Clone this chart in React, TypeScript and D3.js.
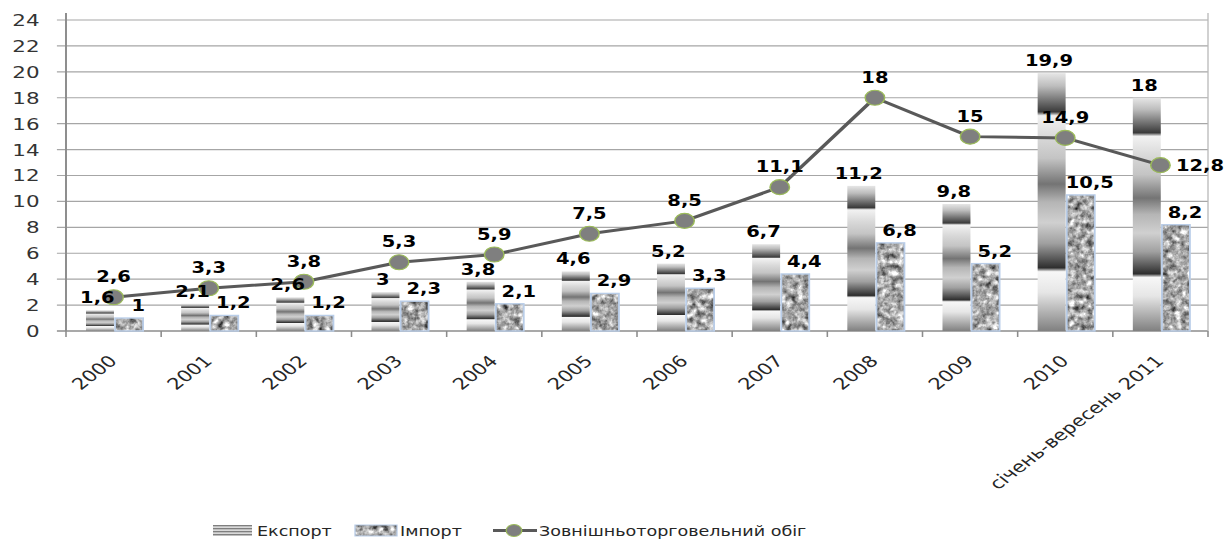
import React from "react";
import * as d3 from "d3";

// the reference picture is stretched horizontally, so we draw in a narrower
// virtual space and let the svg stretch it back out
const W = 1232;
const H = 544;
const K = 1.3;
const VW = W / K;

const categories = [
  "2000", "2001", "2002", "2003", "2004", "2005",
  "2006", "2007", "2008", "2009", "2010", "січень-вересень 2011",
];
const exportValues = [1.6, 2.1, 2.6, 3, 3.8, 4.6, 5.2, 6.7, 11.2, 9.8, 19.9, 18];
const importValues = [1, 1.2, 1.2, 2.3, 2.1, 2.9, 3.3, 4.4, 6.8, 5.2, 10.5, 8.2];
const turnoverValues = [2.6, 3.3, 3.8, 5.3, 5.9, 7.5, 8.5, 11.1, 18, 15, 14.9, 12.8];
const yTicks = [0, 2, 4, 6, 8, 10, 12, 14, 16, 18, 20, 22, 24];
const seriesNames = ["Експорт", "Імпорт", "Зовнішньоторговельний обіг"];

const plot = { left: 66 / K, right: 1208 / K, top: 20, bottom: 331 };

const fmt = (v: number) => String(v).replace(".", ",");

const exportStops: [number, string][] = [
  [0, "#e6e6e6"],
  [0.05, "#bdbdbd"],
  [0.15, "#3a3a3a"],
  [0.165, "#f2f2f2"],
  [0.25, "#d8d8d8"],
  [0.33, "#c4c4c4"],
  [0.43, "#747474"],
  [0.5, "#b5b5b5"],
  [0.58, "#d0d0d0"],
  [0.66, "#a0a0a0"],
  [0.755, "#2e2e2e"],
  [0.77, "#f7f7f7"],
  [0.85, "#e6e6e6"],
  [1, "#808080"],
];

export default function App() {
  const x = d3
    .scaleBand<string>()
    .domain(categories)
    .range([plot.left, plot.right])
    .paddingInner(0)
    .paddingOuter(0);
  const bw = x.bandwidth();
  const x1 = d3
    .scaleBand<string>()
    .domain(["exp", "imp"])
    .range([bw * 0.21, bw * 0.81])
    .paddingInner(0.04);
  const y = d3.scaleLinear().domain([0, 24]).range([plot.bottom, plot.top]);

  const line = d3
    .line<number>()
    .x((_, i) => x(categories[i])! + bw / 2)
    .y((d) => y(d));

  const boundaries = d3.range(categories.length + 1).map((i) => plot.left + i * bw);

  const labelFont = "'DejaVu Sans', sans-serif";

  return (
    <svg
      width={W}
      height={H}
      viewBox={`0 0 ${VW} ${H}`}
      preserveAspectRatio="none"
      style={{ position: "absolute", left: 0, top: 0, background: "#fff" }}
    >
      <defs>
        <linearGradient id="expGrad" x1="0" y1="0" x2="0" y2="1">
          {exportStops.map(([o, c], i) => (
            <stop key={i} offset={o} stopColor={c} />
          ))}
        </linearGradient>
        <filter id="noise" x="0" y="0" width="1" height="1" colorInterpolationFilters="sRGB">
          <feTurbulence type="fractalNoise" baseFrequency="0.22 0.17" numOctaves={3} seed={7} />
          <feColorMatrix
            type="matrix"
            values="0.7 0.7 0.7 0 -0.4  0.7 0.7 0.7 0 -0.4  0.7 0.7 0.7 0 -0.4  0 0 0 0 1"
          />
          <feComposite operator="in" in2="SourceGraphic" />
        </filter>
        <pattern id="stripes" width="6" height="3" patternUnits="userSpaceOnUse">
          <rect width="6" height="3" fill="#d9d9d9" />
          <rect width="6" height="1.3" fill="#7f7f7f" />
        </pattern>
      </defs>

      {/* gridlines */}
      {yTicks.map((t) => (
        <line
          key={t}
          x1={plot.left - 7}
          x2={plot.right}
          y1={y(t)}
          y2={y(t)}
          stroke={t === 0 ? "#8c8c8c" : "#a6a6a6"}
          strokeWidth={t === 0 ? 1.6 : 1.2}
        />
      ))}
      {yTicks.map((t) => (
        <text
          key={t}
          x={30.5}
          y={y(t)}
          dy="0.36em"
          textAnchor="end"
          fontFamily={labelFont}
          fontSize={16.5}
          fill="#333"
        >
          {t}
        </text>
      ))}
      <line x1={plot.left} x2={plot.left} y1={13} y2={plot.bottom} stroke="#8c8c8c" strokeWidth={1.5} />
      <line x1={plot.right} x2={plot.right} y1={13} y2={plot.bottom} stroke="#b8b8b8" strokeWidth={1} />
      {boundaries.map((b, i) => (
        <line key={i} x1={b} x2={b} y1={plot.bottom} y2={plot.bottom + 6} stroke="#8c8c8c" strokeWidth={1.2} />
      ))}

      {/* bars */}
      {categories.map((c, i) => {
        const ex = x(c)! + x1("exp")!;
        const ix = x(c)! + x1("imp")!;
        const w = x1.bandwidth();
        return (
          <g key={c}>
            <rect
              x={ex}
              y={y(exportValues[i])}
              width={w}
              height={y(0) - y(exportValues[i])}
              fill="url(#expGrad)"
            />
            <rect
              x={ix}
              y={y(importValues[i])}
              width={w}
              height={y(0) - y(importValues[i])}
              fill="#999"
              filter="url(#noise)"
            />
            <rect
              x={ix}
              y={y(importValues[i])}
              width={w}
              height={y(0) - y(importValues[i])}
              fill="none"
              stroke="#b9cde8"
              strokeWidth={1.4}
            />
          </g>
        );
      })}

      {/* turnover line */}
      <path d={line(turnoverValues) ?? ""} fill="none" stroke="#595959" strokeWidth={3} strokeLinejoin="round" />
      {turnoverValues.map((v, i) => (
        <circle
          key={i}
          cx={x(categories[i])! + bw / 2}
          cy={y(v)}
          r={7.5}
          fill="#7f7f7f"
          stroke="#9bbb59"
          strokeWidth={1.1}
        />
      ))}

      {/* data labels */}
      <g fontFamily={labelFont} fontWeight="bold" fontSize={15} fill="#000" textAnchor="middle">
        {categories.map((c, i) => (
          <text key={"e" + c} x={x(c)! + x1("exp")! + x1.bandwidth() / 2 - 2} y={y(exportValues[i]) - 7}>
            {fmt(exportValues[i])}
          </text>
        ))}
        {categories.map((c, i) => (
          <text key={"i" + c} x={x(c)! + x1("imp")! + x1.bandwidth() / 2 + 7} y={y(importValues[i]) - 7}>
            {fmt(importValues[i])}
          </text>
        ))}
        {turnoverValues.map((v, i) => {
          const cx = x(categories[i])! + bw / 2;
          const last = i === turnoverValues.length - 1;
          return (
            <text
              key={"t" + i}
              x={last ? cx + 12 : cx}
              y={last ? y(v) : y(v) - 15}
              dy={last ? "0.36em" : 0}
              textAnchor={last ? "start" : "middle"}
            >
              {fmt(v)}
            </text>
          );
        })}
      </g>

      {/* category labels */}
      {categories.map((c) => {
        const ax = x(c)! + bw / 2 + 3.5;
        const ay = plot.bottom + 31;
        return (
          <text
            key={c}
            transform={`translate(${ax},${ay}) rotate(-45)`}
            textAnchor="end"
            fontFamily={labelFont}
            fontSize={16}
            fill="#262626"
          >
            {c}
          </text>
        );
      })}

      {/* legend */}
      <g fontFamily={labelFont} fontSize={13.5} fill="#262626">
        <rect x={213 / K} y={525} width={39 / K} height={11} fill="url(#stripes)" />
        <text x={257 / K} y={536}>{seriesNames[0]}</text>
        <rect x={355 / K} y={525} width={42 / K} height={11} fill="#999" filter="url(#noise)" />
        <rect x={355 / K} y={525} width={42 / K} height={11} fill="none" stroke="#b9cde8" strokeWidth={1} />
        <text x={400 / K} y={536}>{seriesNames[1]}</text>
        <line x1={493 / K} x2={537 / K} y1={530.5} y2={530.5} stroke="#595959" strokeWidth={3} />
        <circle cx={514 / K} cy={530.5} r={6} fill="#7f7f7f" stroke="#9bbb59" strokeWidth={1} />
        <text x={539 / K} y={536}>{seriesNames[2]}</text>
      </g>
    </svg>
  );
}
